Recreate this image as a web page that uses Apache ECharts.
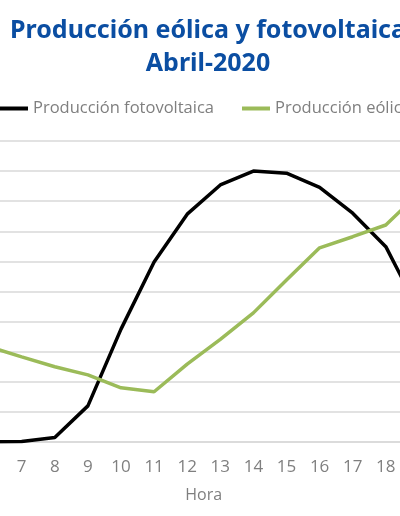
<!DOCTYPE html>
<html>
<head>
<meta charset="utf-8">
<script src="https://cdn.jsdelivr.net/npm/echarts@6/dist/echarts.min.js"></script>
<style>html,body{margin:0;padding:0;background:#fff;}#c{width:400px;height:516px;}</style>
</head>
<body>
<div id="c"></div>
<script>
var hours = ['6','7','8','9','10','11','12','13','14','15','16','17','18','19'];
var fotovoltaica = [0.0, 0.02, 0.15, 1.2, 3.75, 5.98, 7.57, 8.54, 9.0, 8.93, 8.46, 7.6, 6.49, 4.35];
var eolica = [3.17, 2.83, 2.5, 2.23, 1.8, 1.67, 2.59, 3.41, 4.29, 5.38, 6.45, 6.82, 7.21, 8.26];
var titleText = 'Producción eólica y fotovoltaica\nAbril-2020';
var seriesNames = ['Producción fotovoltaica', 'Producción eólica'];

var chart = echarts.init(document.getElementById('c'), null, {renderer: 'canvas'});
chart.setOption({
  animation: false,
  backgroundColor: '#ffffff',
  title: {
    text: titleText,
    left: 203,
    textAlign: 'center',
    top: 9,
    textStyle: {fontFamily: 'Noto Sans', fontWeight: 'bold', fontSize: 25, lineHeight: 33, color: '#0b4ea2'}
  },
  legend: {
    data: seriesNames,
    left: 0,
    top: 100,
    padding: 0,
    width: 700,
    itemWidth: 28,
    itemHeight: 4,
    itemGap: 28,
    icon: 'rect',
    textStyle: {fontFamily: 'Open Sans', fontSize: 16.5, color: '#7f7f7f'}
  },
  grid: {left: -11.4, width: 430.3, top: 141, bottom: 74, containLabel: false, outerBoundsMode: 'none'},
  xAxis: {
    type: 'category',
    data: hours,
    boundaryGap: false,
    name: 'Hora',
    nameLocation: 'middle',
    nameGap: 45,
    nameTextStyle: {fontFamily: 'Open Sans', fontSize: 16, color: '#7f7f7f'},
    axisLine: {lineStyle: {color: '#d9d9d9', width: 1.5}},
    axisTick: {show: false},
    axisLabel: {fontFamily: 'Open Sans', fontSize: 17, color: '#7f7f7f', margin: 17},
    splitLine: {show: false}
  },
  yAxis: {
    type: 'value',
    min: 0,
    max: 10,
    interval: 1,
    axisLabel: {show: false},
    axisLine: {show: false},
    axisTick: {show: false},
    splitLine: {lineStyle: {color: '#d9d9d9', width: 1.5}}
  },
  series: [
    {name: seriesNames[0], type: 'line', data: fotovoltaica, showSymbol: false, symbol: 'none',
     lineStyle: {color: '#000000', width: 3.5}, itemStyle: {color: '#000000'}},
    {name: seriesNames[1], type: 'line', data: eolica, showSymbol: false, symbol: 'none',
     lineStyle: {color: '#9bbb59', width: 3.5}, itemStyle: {color: '#9bbb59'}}
  ]
});
</script>
</body>
</html>
